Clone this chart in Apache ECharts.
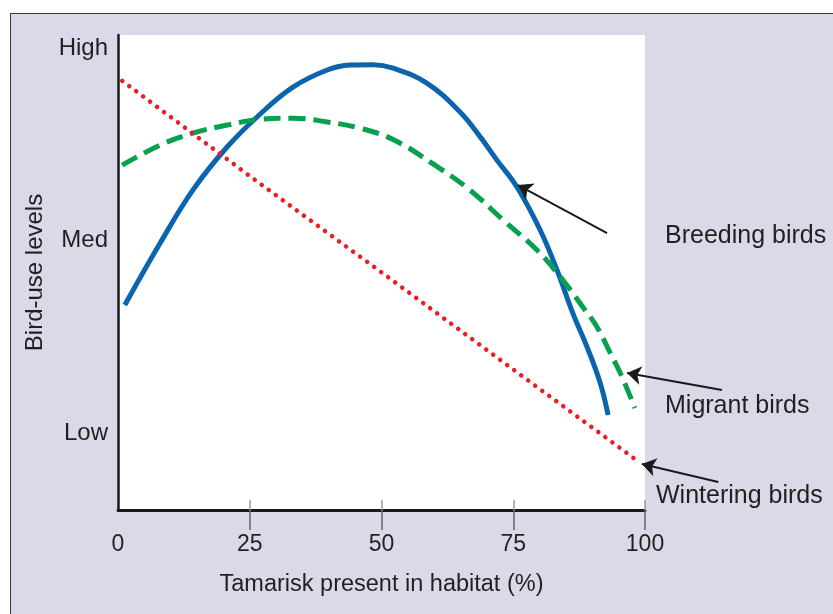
<!DOCTYPE html>
<html>
<head>
<meta charset="utf-8">
<script src="https://cdn.jsdelivr.net/npm/echarts@6/dist/echarts.min.js"></script>
<style>
html,body{margin:0;padding:0;background:#fff;width:833px;height:614px;overflow:hidden;}
#frame{position:absolute;left:10px;top:13px;width:900px;height:700px;background:#d9d9e7;border-left:1.5px solid #3a3a3a;border-top:1.5px solid #3a3a3a;}
#chart{position:absolute;left:0;top:0;width:833px;height:614px;}
</style>
</head>
<body>
<div id="frame"></div>
<div id="chart"></div>
<script>
// X: Tamarisk present (%); Y: 1 = Low, 2 = Med, 3 = High
const xTicks = [0, 25, 50, 75, 100];
const yTicks = [1, 2, 3];
const yTickNames = {1: 'Low', 2: 'Med', 3: 'High'};

const breedingBirds = [
  [1.3, 1.665], [8.0, 1.987], [14.2, 2.262], [20.7, 2.486], [26.9, 2.655],
  [33.2, 2.797], [39.7, 2.886], [44.0, 2.912], [48.4, 2.914], [52.2, 2.896],
  [58.6, 2.818], [64.9, 2.668], [68.7, 2.540], [71.9, 2.418], [75.7, 2.278],
  [80.1, 2.055], [83.3, 1.847], [86.3, 1.623], [89.0, 1.447], [91.5, 1.260],
  [93.0, 1.094]
];
const migrantBirds = [
  [0.8, 2.392], [8.0, 2.496], [14.2, 2.558], [20.7, 2.600], [26.9, 2.630],
  [33.2, 2.636], [39.7, 2.616], [45.9, 2.584], [52.2, 2.525],
  [60.5, 2.385], [66.8, 2.262], [73.1, 2.106], [79.5, 1.951], [84.4, 1.795],
  [88.2, 1.655], [90.9, 1.551], [93.4, 1.416], [95.3, 1.312], [98.1, 1.130]
];
const winteringBirds = [
  [0.8, 2.830], [25, 2.335], [50, 1.835], [75, 1.330], [99.1, 0.845]
];
// annotation arrows: [tail, tip]
const arrows = [
  [[92.8, 2.039], [75.9, 2.288]],
  [[114.6, 1.223], [96.6, 1.312]],
  [[113.9, 0.745], [99.4, 0.839]]
];
const seriesLabels = ['Breeding birds', 'Migrant birds', 'Wintering birds'];

const FONT = '"Liberation Sans", Arial, Helvetica, sans-serif';
const TXT = '#231f20';

const chart = echarts.init(document.getElementById('chart'), null, {renderer: 'canvas'});
chart.setOption({
  backgroundColor: 'transparent',
  animation: false,
  grid: {left: 118, top: 35, right: 188, bottom: 104, show: true, backgroundColor: '#ffffff', borderWidth: 0},
  xAxis: [{
    type: 'value', min: 0, max: 100,
    name: 'Tamarisk present in habitat (%)', nameLocation: 'middle', nameGap: 63,
    nameTextStyle: {fontFamily: FONT, fontSize: 23.5, color: TXT},
    axisLine: {show: true, lineStyle: {color: '#1a1a1a', width: 3}},
    axisTick: {show: true, customValues: xTicks.slice(1), length: 20, inside: false, lineStyle: {color: '#666', width: 1.5}},
    axisLabel: {customValues: xTicks, margin: 23, fontFamily: FONT, fontSize: 23, color: TXT},
    splitLine: {show: false}
  }, {
    type: 'value', min: 0, max: 100, position: 'bottom',
    axisLine: {show: false},
    axisTick: {show: true, customValues: xTicks.slice(1), length: 10, inside: true, lineStyle: {color: '#999', width: 1.5}},
    axisLabel: {show: false},
    splitLine: {show: false}
  }],
  yAxis: {
    type: 'value', min: 0.6, max: 3.068,
    name: 'Bird-use levels', nameLocation: 'middle', nameGap: 69, nameRotate: 90,
    nameTextStyle: {fontFamily: FONT, fontSize: 24, color: TXT},
    axisLine: {show: true, lineStyle: {color: '#1a1a1a', width: 2.5}},
    axisTick: {show: false},
    axisLabel: {customValues: yTicks, margin: 10, fontFamily: FONT, fontSize: 24, color: TXT,
      formatter: v => yTickNames[Math.round(v)] || ''},
    splitLine: {show: false}
  },
  graphic: [
    {type: 'text', left: 665, top: 224, style: {text: seriesLabels[0], font: '25px ' + FONT, fill: TXT}},
    {type: 'text', left: 665, top: 394, style: {text: seriesLabels[1], font: '25px ' + FONT, fill: TXT}},
    {type: 'text', left: 656, top: 484, style: {text: seriesLabels[2], font: '25px ' + FONT, fill: TXT}}
  ],
  series: [
    {
      name: seriesLabels[0], type: 'line', data: breedingBirds, smooth: 0.4, symbol: 'none',
      lineStyle: {color: '#0a64ae', width: 5, cap: 'butt'}
    },
    {
      name: seriesLabels[1], type: 'line', data: migrantBirds, smooth: 0.4, symbol: 'none',
      lineStyle: {color: '#06a04e', width: 5, type: [17, 8], cap: 'butt'}
    },
    {
      name: seriesLabels[2], type: 'line', data: winteringBirds, smooth: false, symbol: 'none',
      lineStyle: {color: '#ec1c24', width: 4.5, type: [0.1, 8.6], cap: 'round'}
    },
    {
      type: 'lines', coordinateSystem: 'cartesian2d', clip: false, z: 5,
      symbol: ['none', 'arrow'], symbolSize: [9, 14],
      lineStyle: {color: '#1a1a1a', width: 2, opacity: 1},
      data: arrows.map(a => ({coords: a}))
    }
  ]
});
</script>
</body>
</html>
